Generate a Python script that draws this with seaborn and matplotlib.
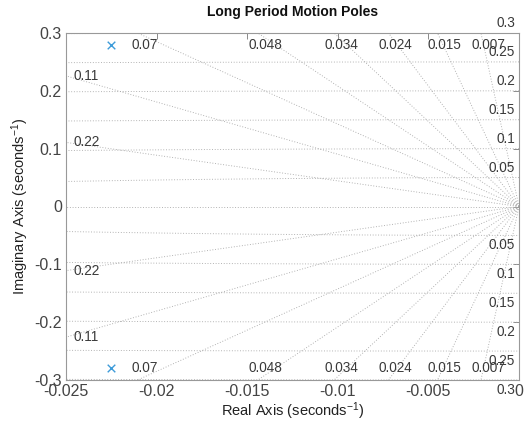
import numpy as np
import pandas as pd
import matplotlib
matplotlib.use("Agg")
import matplotlib.pyplot as plt
import seaborn as sns

# Data
pole_real = [-0.0225, -0.0225]
pole_imag = [0.28, -0.28]
zeta_vals = [0.007, 0.015, 0.024, 0.034, 0.048, 0.07, 0.11, 0.22]
zeta_labels = ["0.007", "0.015", "0.024", "0.034", "0.048", "0.07", "0.11", "0.22"]
wn_vals = [0.05, 0.1, 0.15, 0.2, 0.25, 0.3]
wn_labels = ["0.05", "0.1", "0.15", "0.2", "0.25", "0.3"]
x_ticks = [-0.025, -0.02, -0.015, -0.01, -0.005, 0]
x_ticklabels = ["-0.025", "-0.02", "-0.015", "-0.01", "-0.005", "0"]
y_ticks = [-0.3, -0.2, -0.1, 0, 0.1, 0.2, 0.3]
y_ticklabels = ["-0.3", "-0.2", "-0.1", "0", "0.1", "0.2", "0.3"]

sns.set_style("white")
plt.rcParams["font.family"] = ["Liberation Sans", "DejaVu Sans"]
plt.rcParams["mathtext.default"] = "regular"

XMIN, XMAX = -0.025, 0.0
YMIN, YMAX = -0.3, 0.3

fig = plt.figure(figsize=(5.28, 4.32), dpi=100)
ax = fig.add_axes([66/528, 1-380/432, (519-66)/528, (380-33)/432])

grid_kw = dict(color="#a8a8a8", linestyle=(0, (1, 2)), linewidth=0.65, zorder=1)
txt_color = "#3a3a3a"
lab_fs = 9.8

# natural frequency arcs
th = np.linspace(np.pi/2, 3*np.pi/2, 2000)
for wn in wn_vals:
    ax.plot(wn*np.cos(th), wn*np.sin(th), **grid_kw)
# real axis line
ax.plot([-1, 0], [0, 0], **grid_kw)

# damping lines
for z, lab in zip(zeta_vals, zeta_labels):
    s = np.sqrt(1 - z**2)
    r = 2.0
    ax.plot([0, -z*r], [0, s*r], **grid_kw)
    ax.plot([0, -z*r], [0, -s*r], **grid_kw)
    slope = s / z
    x_top = -YMAX / slope
    if x_top >= XMIN:
        for sgn in (1, -1):
            ax.text(x_top + 0.0004, sgn*0.2785, lab, ha="center", va="center",
                    fontsize=lab_fs, color=txt_color, zorder=3)
    else:
        y_left = -XMIN * slope
        for sgn in (1, -1):
            ax.text(XMIN + 0.0004, sgn*y_left, lab, ha="left", va="center",
                    fontsize=lab_fs, color=txt_color, zorder=3)

for wn, lab in zip(wn_vals, wn_labels):
    for sgn in (1, -1):
        ax.text(-0.00022, sgn*(wn + 0.0165), lab, ha="right", va="center",
                fontsize=lab_fs, color=txt_color, zorder=3, clip_on=False)

df = pd.DataFrame({"re": pole_real, "im": pole_imag})
sns.scatterplot(data=df, x="re", y="im", marker="x", s=30, color="#3d9bd9",
                linewidth=1.0, ax=ax, zorder=4)

ax.set_xlim(XMIN, XMAX)
ax.set_ylim(YMIN, YMAX)
ax.set_xticks(x_ticks)
ax.set_xticklabels(x_ticklabels)
ax.set_yticks(y_ticks)
ax.set_yticklabels(y_ticklabels)
ax.tick_params(direction="in", length=4, width=0.6, colors="#777777",
               labelcolor="#444444", labelsize=11.5, top=True, right=True, pad=3)
for sp in ax.spines.values():
    sp.set_color("#999999")
    sp.set_linewidth(0.8)

ax.set_xlabel("Real Axis (seconds$^{-1}$)", fontsize=10.5, color="#222222", labelpad=1)
ax.set_ylabel("Imaginary Axis (seconds$^{-1}$)", fontsize=10.5, color="#222222", labelpad=2)
ax.set_title("Long Period Motion Poles", fontsize=10, fontweight="bold", color="#111111", pad=12)

fig.savefig("out.png", dpi=100)
